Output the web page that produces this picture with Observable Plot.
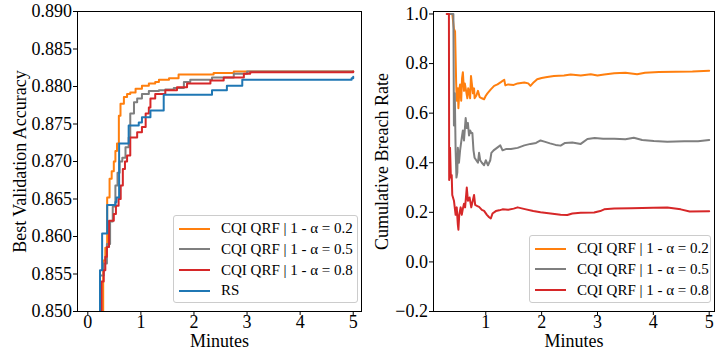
<!DOCTYPE html>
<html><head><meta charset="utf-8">
<script src="https://cdn.jsdelivr.net/npm/d3@7"></script>
<script src="https://cdn.jsdelivr.net/npm/@observablehq/plot@0.6"></script>
<style>
body{margin:0;background:#fff;}
#wrap{position:relative;width:719px;height:351px;display:flex;font-family:"Liberation Serif",serif;}
.legend{position:absolute;border:1px solid #cccccc;border-radius:3px;background:rgba(255,255,255,0.8);box-sizing:border-box;}
.legend .row{position:absolute;left:5px;height:20px;display:flex;align-items:center;font-size:15px;white-space:nowrap;color:#000;}
.legend .row svg{margin-right:11px;}
</style></head><body><div id="wrap"></div>
<script>
// Series names and colours
const seriesNames = ["CQI QRF | 1 - α = 0.2", "CQI QRF | 1 - α = 0.5", "CQI QRF | 1 - α = 0.8", "RS"];
const seriesColors = ["#ff7f0e", "#7f7f7f", "#d62728", "#1f77b4"];

// Left panel: best validation accuracy, [minutes, accuracy]
const accAlpha02 = [[0.28,0.845],[0.29,0.8568],[0.33,0.8585],[0.365,0.8652],[0.41,0.8677],[0.45,0.8687],[0.49,0.8700],[0.52,0.8714],[0.55,0.8724],[0.585,0.8761],[0.616,0.8777],[0.68,0.8786],[0.74,0.8790],[0.80,0.8792],[0.90,0.8797],[1.02,0.8801],[1.15,0.8804],[1.27,0.8806],[1.34,0.8809],[1.53,0.8811],[1.71,0.8816],[2.37,0.8818],[2.75,0.8820],[5.0,0.8820]];
const accAlpha05 = [[0.22,0.845],[0.23,0.8548],[0.30,0.8564],[0.36,0.8590],[0.42,0.8620],[0.47,0.8640],[0.52,0.8668],[0.56,0.8685],[0.60,0.8700],[0.65,0.8705],[0.71,0.8719],[0.77,0.8732],[0.80,0.8764],[0.87,0.8779],[0.93,0.8784],[1.02,0.8790],[1.15,0.8794],[1.34,0.8795],[1.46,0.8796],[1.62,0.8798],[1.81,0.8806],[1.93,0.8809],[2.34,0.8812],[2.75,0.8817],[3.0,0.8820],[5.0,0.8820]];
const accAlpha08 = [[0.25,0.845],[0.26,0.8540],[0.30,0.8555],[0.33,0.8573],[0.36,0.8586],[0.40,0.8621],[0.49,0.8630],[0.53,0.8641],[0.58,0.8650],[0.62,0.8668],[0.66,0.8690],[0.70,0.8700],[0.74,0.8708],[0.80,0.8732],[0.93,0.8739],[1.02,0.8746],[1.09,0.8764],[1.15,0.8772],[1.18,0.8784],[1.27,0.8790],[1.46,0.8795],[1.68,0.8799],[1.87,0.8804],[2.31,0.8808],[2.56,0.8812],[2.94,0.8817],[3.06,0.8819],[5.0,0.8820]];
const accRS = [[0.22,0.845],[0.23,0.8555],[0.27,0.8604],[0.365,0.8642],[0.52,0.8646],[0.54,0.8652],[0.59,0.8724],[0.77,0.8748],[0.96,0.8752],[1.02,0.8759],[1.18,0.8768],[1.43,0.8789],[2.34,0.8795],[2.62,0.8801],[2.91,0.8809],[4.97,0.8811],[5.0,0.8813]];

// Right panel: cumulative breach rate, [minutes, rate]
const breachAlpha02 = [[0.40,1.0],[0.43,0.94],[0.45,0.93],[0.47,0.72],[0.48,0.65],[0.50,0.70],[0.51,0.62],[0.53,0.70],[0.54,0.716],[0.56,0.65],[0.575,0.74],[0.59,0.765],[0.61,0.69],[0.625,0.72],[0.64,0.70],[0.67,0.66],[0.685,0.70],[0.70,0.69],[0.72,0.66],[0.735,0.75],[0.75,0.72],[0.77,0.68],[0.79,0.70],[0.80,0.66],[0.83,0.67],[0.86,0.69],[0.89,0.665],[0.93,0.66],[0.97,0.656],[1.0,0.67],[1.03,0.68],[1.09,0.696],[1.15,0.71],[1.21,0.716],[1.27,0.725],[1.33,0.735],[1.35,0.712],[1.40,0.716],[1.50,0.714],[1.57,0.72],[1.69,0.724],[1.76,0.72],[1.80,0.71],[1.86,0.725],[1.92,0.737],[2.00,0.742],[2.10,0.746],[2.22,0.75],[2.40,0.752],[2.52,0.756],[2.70,0.752],[2.88,0.757],[3.00,0.752],[3.12,0.756],[3.30,0.761],[3.50,0.763],[3.71,0.757],[3.85,0.763],[4.10,0.766],[4.40,0.767],[4.70,0.768],[5.00,0.771]];
const breachAlpha05 = [[0.34,1.0],[0.42,1.0],[0.43,0.55],[0.445,0.68],[0.46,0.45],[0.475,0.34],[0.49,0.36],[0.50,0.46],[0.52,0.40],[0.54,0.45],[0.57,0.50],[0.59,0.53],[0.61,0.49],[0.64,0.58],[0.66,0.54],[0.68,0.56],[0.70,0.51],[0.72,0.53],[0.74,0.52],[0.76,0.52],[0.78,0.45],[0.80,0.42],[0.83,0.41],[0.86,0.40],[0.88,0.44],[0.90,0.41],[0.93,0.40],[0.97,0.39],[1.00,0.41],[1.04,0.39],[1.08,0.41],[1.10,0.44],[1.14,0.45],[1.20,0.46],[1.26,0.47],[1.30,0.45],[1.36,0.455],[1.45,0.455],[1.57,0.46],[1.69,0.47],[1.80,0.476],[1.90,0.48],[1.98,0.49],[2.05,0.485],[2.15,0.478],[2.25,0.472],[2.34,0.469],[2.42,0.48],[2.55,0.482],[2.70,0.476],[2.82,0.496],[2.95,0.50],[3.10,0.497],[3.30,0.497],[3.50,0.495],[3.65,0.501],[3.80,0.492],[4.01,0.488],[4.25,0.485],[4.55,0.487],[4.80,0.487],[5.0,0.492]];
const breachAlpha08 = [[0.30,1.0],[0.34,1.0],[0.345,0.33],[0.36,0.46],[0.375,0.34],[0.39,0.35],[0.40,0.27],[0.43,0.247],[0.46,0.19],[0.48,0.22],[0.50,0.15],[0.51,0.13],[0.525,0.19],[0.55,0.22],[0.57,0.19],[0.59,0.215],[0.61,0.235],[0.63,0.22],[0.66,0.30],[0.68,0.247],[0.71,0.26],[0.74,0.22],[0.77,0.25],[0.79,0.27],[0.81,0.23],[0.85,0.225],[0.88,0.222],[0.93,0.21],[0.97,0.206],[1.02,0.19],[1.06,0.18],[1.09,0.175],[1.12,0.195],[1.18,0.205],[1.24,0.208],[1.30,0.212],[1.40,0.21],[1.50,0.215],[1.57,0.22],[1.70,0.213],[1.85,0.205],[1.98,0.20],[2.16,0.195],[2.34,0.19],[2.46,0.189],[2.55,0.195],[2.70,0.198],[2.94,0.199],[3.05,0.205],[3.12,0.212],[3.30,0.215],[3.60,0.216],[4.00,0.218],[4.25,0.219],[4.49,0.212],[4.65,0.203],[5.0,0.204]];

// Ticks
const accXTicks = [0, 1, 2, 3, 4, 5];
const accYTicks = [0.850, 0.855, 0.860, 0.865, 0.870, 0.875, 0.880, 0.885, 0.890];
const breachXTicks = [1, 2, 3, 4, 5];
const breachYTicks = [-0.2, 0.0, 0.2, 0.4, 0.6, 0.8, 1.0];

const toRows = (arr, name) => arr.map(([m, v]) => ({m, v, series: name}));
const accData = [accAlpha02, accAlpha05, accAlpha08, accRS].flatMap((a, i) => toRows(a, seriesNames[i]));
const breachData = [breachAlpha02, breachAlpha05, breachAlpha08].flatMap((a, i) => toRows(a, seriesNames[i]));

const FONT = '"Liberation Serif", "Times New Roman", serif';
const FS = 18;

function panel(o) {
  return Plot.plot({
    width: o.width, height: 351,
    marginLeft: o.marginLeft, marginRight: o.marginRight, marginTop: 11, marginBottom: 40,
    style: {fontFamily: FONT, fontSize: FS + "px", background: "white", overflow: "visible"},
    x: {domain: o.xDomain, label: null},
    y: {domain: o.yDomain, label: null},
    color: {domain: seriesNames, range: seriesColors},
    marks: [
      Plot.line(o.data, {x: "m", y: "v", z: "series", stroke: "series", strokeWidth: 2, curve: o.curve, clip: true}),
      Plot.frame({stroke: "black", strokeWidth: 1}),
      Plot.axisX(o.xTicks, {tickSize: 4, tickPadding: 0, fontSize: FS, label: null}),
      Plot.axisY(o.yTicks, {tickSize: 4, tickPadding: 1.5, fontSize: FS, tickFormat: o.yFormat, label: null}),
      Plot.text(["Minutes"], {frameAnchor: "bottom", dy: 30, fontSize: FS, textAnchor: "middle", lineAnchor: "middle"}),
      Plot.text([o.yLabel], {frameAnchor: "left", dx: o.yLabelDx, rotate: -90, fontSize: FS, textAnchor: "middle", lineAnchor: "middle"})
    ]
  });
}

const wrap = document.getElementById("wrap");
wrap.append(panel({
  width: 362, marginLeft: 77, marginRight: 1,
  xDomain: [-0.194, 5.156], yDomain: [0.85, 0.89],
  xTicks: accXTicks, yTicks: accYTicks, yFormat: d3.format(".3f"),
  data: accData, curve: "step-after",
  yLabel: "Best Validation Accuracy", yLabelDx: -57
}));
wrap.append(panel({
  width: 357, marginLeft: 71, marginRight: 5,
  xDomain: [0.064, 5.095], yDomain: [-0.2, 1.01],
  xTicks: breachXTicks, yTicks: breachYTicks, yFormat: d3.format(".1f"),
  data: breachData, curve: "linear",
  yLabel: "Cumulative Breach Rate", yLabelDx: -51
}));

function legend(names, left, top, width, height) {
  const box = document.createElement("div");
  box.className = "legend";
  Object.assign(box.style, {left: left + "px", top: top + "px", width: width + "px", height: height + "px"});
  names.forEach((name, i) => {
    const row = document.createElement("div");
    row.className = "row";
    row.style.top = (2.5 + i * 20.8) + "px";
    const color = seriesColors[seriesNames.indexOf(name)];
    row.innerHTML = `<svg width="31" height="4"><line x1="0" x2="31" y1="2" y2="2" stroke="${color}" stroke-width="2"/></svg><span>${name}</span>`;
    box.append(row);
  });
  wrap.append(box);
}
legend(seriesNames, 173, 215, 185, 88);
legend(seriesNames.slice(0, 3), 529, 235, 182, 68);
</script></body></html>
